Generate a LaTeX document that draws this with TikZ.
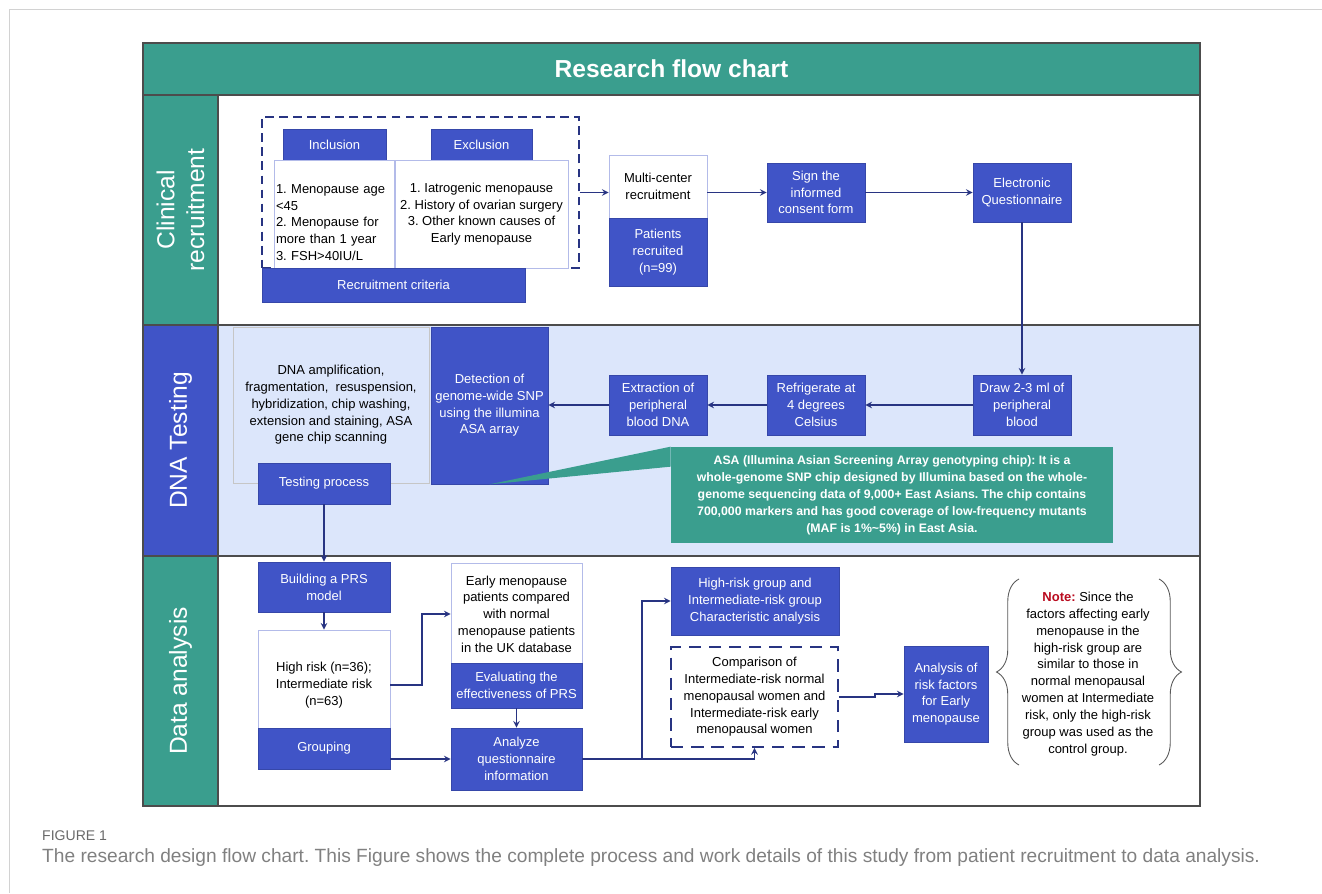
\documentclass[tikz,border=0pt]{standalone}
\usepackage{fontspec}
\setmainfont{Liberation Sans}
\usepackage{xcolor}
\usepackage{tikz}
\usetikzlibrary{arrows, decorations.pathreplacing}
\frenchspacing
\definecolor{flowteal}{RGB}{58,158,142}
\definecolor{flowblue}{RGB}{64,84,199}
\definecolor{flownavy}{RGB}{40,52,130}
\definecolor{lanelight}{RGB}{220,230,251}
\definecolor{notered}{RGB}{185,10,30}
\definecolor{capgray}{RGB}{105,105,105}
\tikzstyle{bluebox} = [rectangle, draw=flowblue!85!black, fill=flowblue, text=white, align=center, inner sep=1pt, font=\fontsize{7.4}{9.5}\selectfont]
\tikzstyle{whitebox} = [rectangle, draw=flowblue!40, fill=white, text=black, align=center, inner sep=1pt, font=\fontsize{7.4}{9.5}\selectfont]
\tikzstyle{dashbox} = [rectangle, draw=flownavy, dashed, fill=white, text=black, align=center, font=\fontsize{7.4}{9.5}\selectfont]
\tikzstyle{lanelabel} = [rectangle, text=white, rotate=90, align=center, inner sep=0pt, font=\fontsize{14}{17}\selectfont]
\tikzstyle{arrow} = [draw=flownavy, line width=0.7pt, ->, >=stealth]
\tikzstyle{brace} = [draw=gray!70!black, line width=0.5pt, decorate, decoration={brace, amplitude=0.45cm}]

\begin{document}
\begin{tikzpicture}[x=0.02cm, y=-0.02cm]
            \useasboundingbox (0,0) rectangle (1322,893);
            % Page frame
            \draw[gray!35] (9,893) -- (9,9) -- (1322,9);
            
            % Lanes
            \fill[lanelight] (218,325) rectangle (1200,556);
            \node[rectangle, fill=flowteal, minimum width=21.14cm, minimum height=1.04cm, text=white, font=\fontsize{14}{17}\selectfont\bfseries] (title) at (671.5,69) {Research flow chart};
            \node[lanelabel, fill=flowteal, minimum width=4.6cm, minimum height=1.5cm] (lane1) at (180.5,210) {Clinical\\recruitment};
            \node[lanelabel, fill=flowblue, minimum width=4.62cm, minimum height=1.5cm] (lane2) at (180.5,440.5) {DNA Testing};
            \node[lanelabel, fill=flowteal, minimum width=5cm, minimum height=1.5cm] (lane3) at (180.5,681) {Data analysis};
            \draw[gray!60!black, line width=0.8pt] (143,95) -- (1200,95) (143,325) -- (1200,325) (143,556) -- (1200,556) (218,95) -- (218,806);
            \draw[gray!60!black, line width=1.2pt] (143,43) rectangle (1200,806);
            
            % Clinical recruitment
            \node[dashbox, line width=0.7pt, dash pattern=on 5pt off 3pt, minimum width=6.34cm, minimum height=3.02cm] (critbox) at (420.5,192.5) {};
            \node[bluebox, minimum width=2.06cm, minimum height=0.62cm] (inclab) at (334.5,144.5) {Inclusion};
            \node[bluebox, minimum width=2.02cm, minimum height=0.62cm] (exclab) at (481.5,144.5) {Exclusion};
            \node[whitebox, align=left, text width=2.34cm, minimum height=2.5cm] (incbox) at (334.5,222.5) {1. Menopause age\\<45\\2. Menopause for\\more than 1 year\\3. FSH>40IU/L};
            \node[whitebox, minimum width=3.46cm, minimum height=2.16cm] (excbox) at (481.5,214) {1. Iatrogenic menopause\\2. History of ovarian surgery\\3. Other known causes of\\Early menopause};
            \node[bluebox, minimum width=5.26cm, minimum height=0.68cm] (critbar) at (393.5,285) {Recruitment criteria};
            \node[whitebox, minimum width=1.96cm, minimum height=1.26cm] (multi) at (658,186.5) {Multi-center\\recruitment};
            \node[bluebox, minimum width=1.96cm, minimum height=1.36cm] (patients) at (658,252) {Patients\\recruited\\(n=99)};
            \node[bluebox, minimum width=1.96cm, minimum height=1.18cm] (consent) at (816,192.5) {Sign the\\informed\\consent form};
            \node[bluebox, minimum width=1.96cm, minimum height=1.18cm] (equest) at (1022,192.5) {Electronic\\Questionnaire};
            
            % DNA testing
            \node[rectangle, draw=gray!45, fill=lanelight, align=center, minimum width=3.92cm, minimum height=3.12cm, font=\fontsize{7.4}{9.5}\selectfont] (dnaproc) at (331,405) {DNA amplification,\\fragmentation,~ resuspension,\\hybridization, chip washing,\\extension and staining, ASA\\gene chip scanning};
            \node[bluebox, minimum width=2.64cm, minimum height=0.82cm] (testproc) at (324,483.5) {Testing process};
            \node[bluebox, minimum width=2.34cm, minimum height=3.14cm] (detect) at (489.5,405.5) {Detection of\\genome-wide SNP\\using the illumina\\ASA array};
            \node[bluebox, minimum width=1.96cm, minimum height=1.2cm] (extract) at (658,405) {Extraction of\\peripheral\\blood DNA};
            \node[bluebox, minimum width=1.96cm, minimum height=1.2cm] (fridge) at (816,405) {Refrigerate at\\4 degrees\\Celsius};
            \node[bluebox, minimum width=1.96cm, minimum height=1.2cm] (blood) at (1022,405) {Draw 2-3 ml of\\peripheral\\blood};
            \node[rectangle, fill=flowteal, text=white, align=center, minimum width=8.84cm, minimum height=1.92cm, font=\fontsize{7}{9.7}\selectfont\bfseries] (callout) at (892,495) {ASA (Illumina Asian Screening Array genotyping chip): It is a\\whole-genome SNP chip designed by Illumina based on the whole-\\genome sequencing data of 9,000+ East Asians. The chip contains\\700,000 markers and has good coverage of low-frequency mutants\\(MAF is 1\%\textasciitilde5\%) in East Asia.};
            \fill[flowteal] (callout.north west) -- (detect.south) -- ([yshift=-0.4cm]callout.north west) -- cycle;
            
            % Data analysis
            \node[bluebox, minimum width=2.64cm, minimum height=1cm] (prs) at (324,587) {Building a PRS\\model};
            \node[whitebox, minimum width=2.64cm, minimum height=2.2cm] (risk) at (324,685) {High risk (n=36);\\Intermediate risk\\(n=63)};
            \node[bluebox, minimum width=2.64cm, minimum height=0.82cm] (grouping) at (324,748.5) {Grouping};
            \node[whitebox, minimum width=2.62cm, minimum height=2.04cm] (early) at (516.5,614) {Early menopause\\patients compared\\with normal\\menopause patients\\in the UK database};
            \node[bluebox, minimum width=2.62cm, minimum height=0.9cm] (evaluate) at (516.5,685.5) {Evaluating the\\effectiveness of PRS};
            \node[bluebox, minimum width=2.62cm, minimum height=1.24cm] (analyze) at (516.5,759) {Analyze\\questionnaire\\information};
            \node[bluebox, minimum width=3.36cm, minimum height=1.36cm] (hrchar) at (755,601) {High-risk group and\\Intermediate-risk group\\Characteristic analysis};
            \node[dashbox, line width=1.1pt, dash pattern=on 7pt off 4.5pt, minimum width=3.34cm, minimum height=2cm] (compare) at (754.5,697) {Comparison of\\Intermediate-risk normal\\menopausal women and\\Intermediate-risk early\\menopausal women};
            \node[bluebox, minimum width=1.68cm, minimum height=1.92cm] (riskfac) at (946,694) {Analysis of\\risk factors\\for Early\\menopause};
            \node[align=center, font=\fontsize{7.4}{9.6}\selectfont] (note) at (1088,674) {\textcolor{notered}{\textbf{Note:}} Since the\\factors affecting early\\menopause in the\\high-risk group are\\similar to those in\\normal menopausal\\women at Intermediate\\risk, only the high-risk\\group was used as the\\control group.};
            \draw[brace] (1019,765) -- (1019,579);
            \draw[brace] (1159,579) -- (1159,765);
            
            % Arrows
            \coordinate (bend1) at (422,685);
            \coordinate (split) at (642,759);
            \coordinate (jog) at (875,697);
            \draw[arrow] (critbox.east) -- (critbox.east -| multi.west);
            \draw[arrow] (consent.west -| multi.east) -- (consent.west);
            \draw[arrow] (consent) -- (equest);
            \draw[arrow] (equest) -- (blood);
            \draw[arrow] (blood) -- (fridge);
            \draw[arrow] (fridge) -- (extract);
            \draw[arrow] (extract.west) -- (extract.west -| detect.east);
            \draw[arrow] (testproc) -- (prs);
            \draw[arrow] (prs) -- (risk);
            \draw[arrow] (risk.east) -- (bend1) |- (early.west);
            \draw[arrow] (evaluate) -- (analyze);
            \draw[arrow] (analyze.west -| grouping.east) -- (analyze.west);
            \draw[arrow] (analyze.east) -- (split) |- (hrchar.west);
            \draw[arrow] (split) -| (compare.south);
            \draw[arrow] (compare.east) -- (jog) |- (riskfac.west);
            
            % Caption
            \node[anchor=west, text=capgray, font=\fontsize{8}{10}\selectfont] (figlabel) at (36,836) {FIGURE 1};
            \node[anchor=west, text=capgray!85, font=\fontsize{10.9}{13}\selectfont] (caption) at (36,858) {The research design flow chart. This Figure shows the complete process and work details of this study from patient recruitment to data analysis.};
        \end{tikzpicture}
\end{document}
